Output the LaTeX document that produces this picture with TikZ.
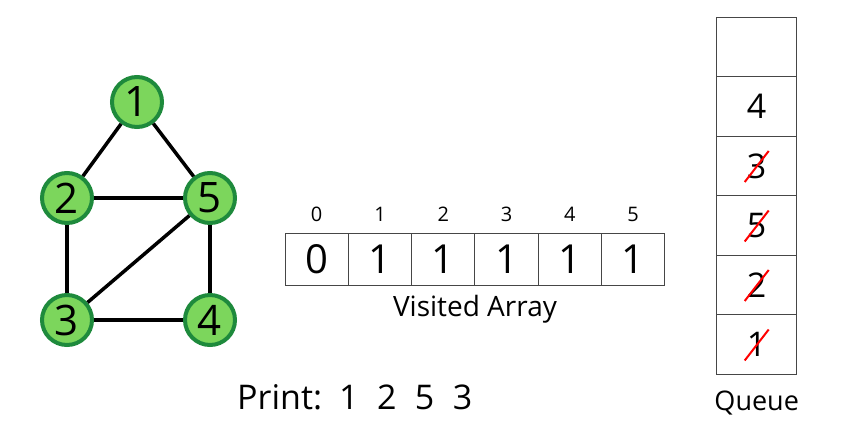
\documentclass[tikz,border=0pt]{standalone}
\usepackage{fontspec}
\setmainfont{Open Sans}
\definecolor{nodefill}{RGB}{124,214,92}
\definecolor{nodeline}{RGB}{30,138,60}
\definecolor{cellline}{RGB}{70,70,70}
\begin{document}
\begin{tikzpicture}[x=1pt,y=-1pt,
    vertex/.style={circle,draw=nodeline,fill=nodefill,line width=4pt,minimum size=50pt,inner sep=0pt,font=\fontsize{42}{44}\selectfont},
    edge/.style={line width=3.5pt,black},
    cell/.style={draw=cellline,line width=1pt,minimum width=63.3pt,minimum height=52pt,inner sep=0pt,font=\fontsize{40}{42}\selectfont},
    qcell/.style={draw=cellline,line width=1pt,minimum width=80pt,minimum height=59.5pt,inner sep=0pt,font=\fontsize{34}{36}\selectfont},
    strike/.style={red,line width=2pt}]
  \useasboundingbox (0,0) rectangle (846,445);
  % graph
  \node[vertex] (n1) at (137,102) {1};
  \node[vertex] (n2) at (67,198) {2};
  \node[vertex] (n5) at (210,198) {5};
  \node[vertex] (n3) at (67,320) {3};
  \node[vertex] (n4) at (210,320) {4};
  \draw[edge] (n1) -- (n2);
  \draw[edge] (n1) -- (n5);
  \draw[edge] (n2) -- (n5);
  \draw[edge] (n2) -- (n3);
  \draw[edge] (n5) -- (n3);
  \draw[edge] (n5) -- (n4);
  \draw[edge] (n3) -- (n4);

  % visited array
  \foreach \i/\v in {0/0,1/1,2/1,3/1,4/1,5/1} {
    \node[cell] (v\i) at (316.7+63.3*\i,259) {\v};
    \node[font=\fontsize{20}{22}\selectfont] (i\i) at (316.7+63.3*\i,214) {\i};
  }
  \node[anchor=base,font=\fontsize{28}{30}\selectfont] (varr) at (475,316.7) {Visited Array};

  % queue
  \node[qcell] (q6) at (756.7,47) {};
  \node[qcell] (q5) at (756.7,106.5) {4};
  \node[qcell] (q4) at (756.7,166) {3};
  \node[qcell] (q3) at (756.7,225.5) {5};
  \node[qcell] (q2) at (756.7,285) {2};
  \node[qcell] (q1) at (756.7,344.5) {1};
  \foreach \q in {q1,q2,q3,q4}
    \draw[strike] ([shift={(-12,16)}]\q.center) -- ([shift={(12,-15)}]\q.center);
  \node[anchor=base,font=\fontsize{27}{29}\selectfont] (qlabel) at (756.7,410) {Queue};

  % output
  \node[anchor=base west,inner sep=0pt,font=\fontsize{34}{36}\selectfont] (print) at (237,409)
    {Print:\hspace{17pt}1\hspace{18.5pt}2\hspace{18.5pt}5\hspace{18.5pt}3};
\end{tikzpicture}
\end{document}
